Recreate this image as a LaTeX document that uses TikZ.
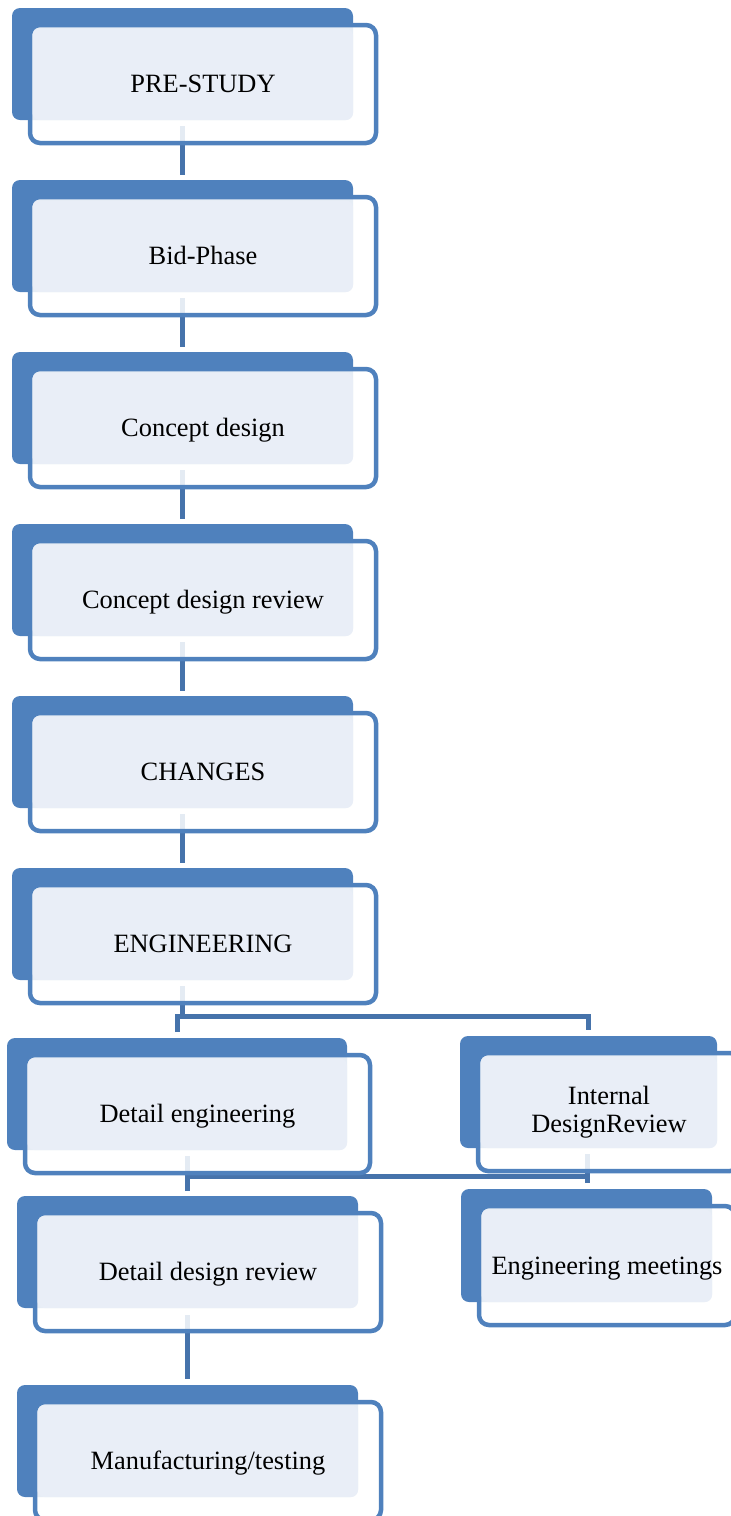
\documentclass[tikz,border=0pt]{standalone}
\usepackage{fontspec}
\setmainfont{Liberation Serif}
\usetikzlibrary{calc}
\pgfdeclarelayer{backs}
\pgfdeclarelayer{conns}
\pgfsetlayers{backs,conns,main}

\definecolor{stageblue}{HTML}{4F81BD}
\definecolor{stagelight}{HTML}{E9EEF7}
\definecolor{linkblue}{HTML}{4673AB}

\tikzset{
  backbox/.style={fill=stageblue, rounded corners=8pt, inner sep=0pt, outer sep=0pt, draw=none},
  outerframe/.style={draw=stageblue, line width=4.5pt, rounded corners=10pt, fill=white, fill opacity=0.86},
  innerpanel/.style={fill=stagelight, rounded corners=7pt},
  stagetext/.style={font=\fontsize{26.4}{28}\selectfont, align=center, inner sep=0pt,
                    text height=17.5pt, text depth=0pt},
  link/.style={draw=linkblue, line width=5pt}
}

% #1 extra text options, #2 name, #3 left, #4 top, #5 right, #6 bottom (of the solid back plate), #7 text
\newcommand\stagebox[7][]{%
  \begin{pgfonlayer}{backs}
    \node[backbox, minimum width={#5-#3}, minimum height={#6-#4}] (#2) at ({(#3+#5)/2},{(#4+#6)/2}) {};
  \end{pgfonlayer}
  \draw[outerframe] ($(#2.north west)+(18,17)$) rectangle ($(#2.south east)+(23,23)$);
  \fill[innerpanel] ($(#2.north west)+(20.5,20.5)$) rectangle (#2.south east);
  \node[stagetext, #1] (#2-t) at ($(#2.center)+(20.5,20)$) {#7};
}

\begin{document}
\begin{tikzpicture}[x=1pt, y=-1pt]
  \useasboundingbox (0,0) rectangle (731,1516);

  \stagebox{pre}{12}{8}{353}{120}{PRE-STUDY}
  \stagebox{bid}{12}{180}{353}{292}{Bid-Phase}
  \stagebox{cd}{12}{352}{353}{464}{Concept design}
  \stagebox{cdr}{12}{524}{353}{636}{Concept design review}
  \stagebox{chg}{12}{696}{353}{808}{CHANGES}
  \stagebox{eng}{12}{868}{353}{980}{ENGINEERING}
  \stagebox{det}{7}{1038}{347}{1150}{Detail engineering}
  \stagebox[text height={}, text depth={}]{idr}{460}{1036}{717}{1148}{Internal\\DesignReview}
  \stagebox{ddr}{17}{1196}{358}{1308}{Detail design review}
  \stagebox{em}{461}{1189}{712}{1302}{Engineering meetings}
  \stagebox{mt}{17}{1385}{358}{1497}{Manufacturing/testing}

  \begin{pgfonlayer}{conns}
    % main chain
    \foreach \a/\b in {pre/bid, bid/cd, cd/cdr, cdr/chg, chg/eng}
      \draw[link] ($(\a.south)+(0,6)$) -- ($(\b.north)+(0,-5)$);
    % engineering branch
    \draw[link] ($(eng.south)+(0,6)$) -- ($(eng.south)+(0,36)$);
    \draw[link] ($(det.north)+(0,-6)$) |- ($(idr.north)+(0,-20)$) -- ($(idr.north)+(0,-6)$);
    % lower branch
    \draw[link] ($(det.south -| ddr.north)+(0,6)$) -- ($(det.south -| ddr.north)+(0,26)$);
    \draw[link] ($(idr.south)+(-1,6)$) -- ($(idr.south)+(-1,28)$);
    \draw[link] ($(ddr.north)+(0,-5)$) |- ($(em.north)+(1,-13)$) -- ($(em.north)+(1,-6)$);
    % detail design review to manufacturing
    \draw[link] ($(ddr.south)+(0,7)$) -- ($(mt.north)+(0,-6)$);
  \end{pgfonlayer}
\end{tikzpicture}
\end{document}
